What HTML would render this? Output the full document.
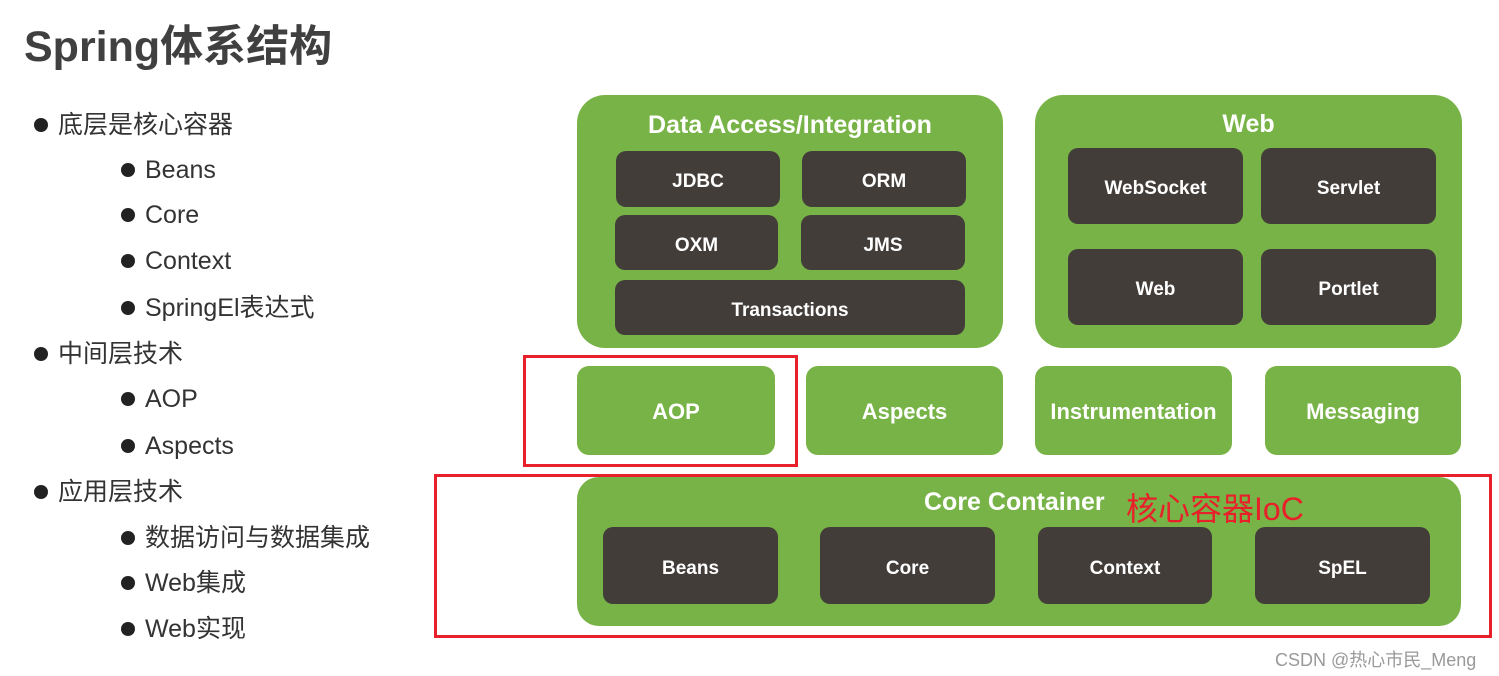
<!DOCTYPE html><html><head><meta charset="utf-8"><style>
body{margin:0;width:1499px;height:676px;background:#fff;position:relative;overflow:hidden;font-family:"Liberation Sans","Noto Sans CJK SC",sans-serif}
.a{position:absolute;box-sizing:border-box}
.g{background:#78b347;border-radius:28px}
.d{background:#433d3a;border-radius:10px;color:#fff;font-weight:bold;font-size:19px;display:flex;align-items:center;justify-content:center;padding-top:6px}
.gb{background:#78b347;border-radius:12px;color:#fff;font-weight:bold;font-size:22px;display:flex;align-items:center;justify-content:center;padding-top:3px}
.t{color:#fff;font-weight:bold;font-size:25px;text-align:center}
.l{position:absolute;font-size:25px;color:#333;line-height:30px}
.l::before{content:"";position:absolute;left:-24px;top:8px;width:14px;height:14px;border-radius:50%;background:#222}
.r{border:3px solid #e8202a}
</style></head><body>
<div class="a" style="left:24px;top:12px;font-size:43px;font-weight:bold;color:#404040">Spring体系结构</div>
<div class="l" style="left:58px;top:110px">底层是核心容器</div>
<div class="l" style="left:145px;top:155px">Beans</div>
<div class="l" style="left:145px;top:200px">Core</div>
<div class="l" style="left:145px;top:246px">Context</div>
<div class="l" style="left:145px;top:293px">SpringEl表达式</div>
<div class="l" style="left:58px;top:339px">中间层技术</div>
<div class="l" style="left:145px;top:384px">AOP</div>
<div class="l" style="left:145px;top:431px">Aspects</div>
<div class="l" style="left:58px;top:477px">应用层技术</div>
<div class="l" style="left:145px;top:523px">数据访问与数据集成</div>
<div class="l" style="left:145px;top:568px">Web集成</div>
<div class="l" style="left:145px;top:614px">Web实现</div>

<div class="a g" style="left:577px;top:95px;width:426px;height:253px"></div>
<div class="a t" style="left:577px;top:111px;width:426px">Data Access/Integration</div>
<div class="a d" style="left:616px;top:151px;width:164px;height:56px">JDBC</div>
<div class="a d" style="left:802px;top:151px;width:164px;height:56px">ORM</div>
<div class="a d" style="left:615px;top:215px;width:163px;height:55px">OXM</div>
<div class="a d" style="left:801px;top:215px;width:164px;height:55px">JMS</div>
<div class="a d" style="left:615px;top:280px;width:350px;height:55px">Transactions</div>

<div class="a g" style="left:1035px;top:95px;width:427px;height:253px"></div>
<div class="a t" style="left:1035px;top:110px;width:427px">Web</div>
<div class="a d" style="left:1068px;top:148px;width:175px;height:76px">WebSocket</div>
<div class="a d" style="left:1261px;top:148px;width:175px;height:76px">Servlet</div>
<div class="a d" style="left:1068px;top:249px;width:175px;height:76px">Web</div>
<div class="a d" style="left:1261px;top:249px;width:175px;height:76px">Portlet</div>

<div class="a gb" style="left:577px;top:366px;width:198px;height:89px">AOP</div>
<div class="a gb" style="left:806px;top:366px;width:197px;height:89px">Aspects</div>
<div class="a gb" style="left:1035px;top:366px;width:197px;height:89px">Instrumentation</div>
<div class="a gb" style="left:1265px;top:366px;width:196px;height:89px">Messaging</div>

<div class="a g" style="left:577px;top:477px;width:884px;height:149px;border-radius:22px"></div>
<div class="a t" style="left:924px;top:488px;font-size:25px">Core Container</div>
<div class="a" style="left:1126px;top:484px;font-size:32px;color:#e8202a">核心容器IoC</div>
<div class="a d" style="left:603px;top:527px;width:175px;height:77px">Beans</div>
<div class="a d" style="left:820px;top:527px;width:175px;height:77px">Core</div>
<div class="a d" style="left:1038px;top:527px;width:174px;height:77px">Context</div>
<div class="a d" style="left:1255px;top:527px;width:175px;height:77px">SpEL</div>

<div class="a r" style="left:523px;top:355px;width:275px;height:112px"></div>
<div class="a r" style="left:434px;top:474px;width:1058px;height:164px"></div>
<div class="a" style="left:1275px;top:646px;font-size:18px;color:#999">CSDN @热心市民_Meng</div>
</body></html>
